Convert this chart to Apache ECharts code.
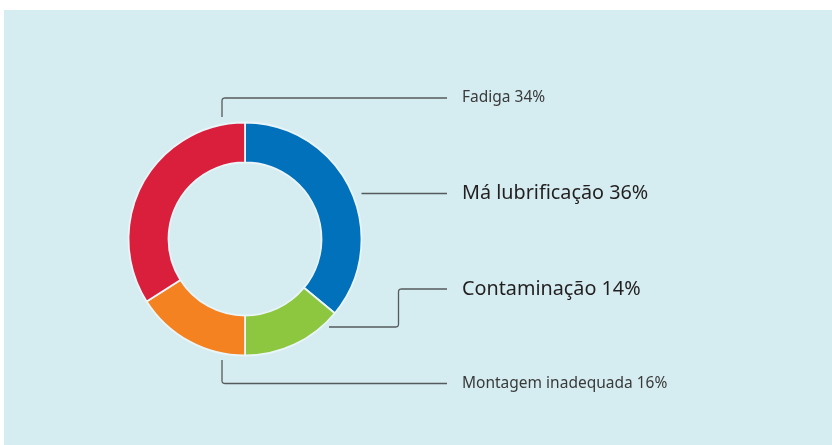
<!DOCTYPE html>
<html>
<head>
<meta charset="utf-8">
<script src="https://cdn.jsdelivr.net/npm/echarts@6/dist/echarts.min.js"></script>
<style>
  html, body { margin: 0; padding: 0; background: #ffffff; }
  #chart { width: 832px; height: 445px; }
</style>
</head>
<body>
<div id="chart"></div>
<script>
// Causes of bearing failure (share of cases, %)
const causes = ['Má lubrificação', 'Contaminação', 'Montagem inadequada', 'Fadiga'];
const shares = [36, 14, 16, 34];

// Presentation per slice (same order as above)
const sliceColors = ['#0071ba', '#8dc63f', '#f48221', '#da1f3d'];
const labelSizes = [19.8, 19.8, 15.5, 15.5];
const labelColors = ['#231f20', '#231f20', '#3a3a3a', '#3a3a3a'];

// Donut geometry
const CX = 245, CY = 239, R_IN = 76.5, R_OUT = 116.5;
const LABEL_X = 462;
const LINE_END_X = 447;

// Leader line routes and label rows, per slice
const labelRows = [193.5, 289, 383.5, 98];
const leaderRoutes = [
  [[CX + R_OUT, 193.5], [LINE_END_X, 193.5]],
  [[329, 327], [398.5, 327], [398.5, 289], [LINE_END_X, 289]],
  [[222, 360], [222, 383.5], [LINE_END_X, 383.5]],
  [[222, 117], [222, 98], [LINE_END_X, 98]]
];

const chart = echarts.init(document.getElementById('chart'), null, { renderer: 'canvas' });

const pieData = causes.map((name, i) => ({
  name: name,
  value: shares[i],
  itemStyle: { color: sliceColors[i] },
  label: { fontSize: labelSizes[i], color: labelColors[i] }
}));

// Polyline with slightly rounded corners (quadratic corner sampled into points)
function roundedPoints(pts, r) {
  const out = [pts[0]];
  for (let i = 1; i < pts.length - 1; i++) {
    const p0 = pts[i - 1], p1 = pts[i], p2 = pts[i + 1];
    const l1 = Math.hypot(p1[0] - p0[0], p1[1] - p0[1]);
    const l2 = Math.hypot(p2[0] - p1[0], p2[1] - p1[1]);
    const a = [p1[0] - (p1[0] - p0[0]) / l1 * r, p1[1] - (p1[1] - p0[1]) / l1 * r];
    const b = [p1[0] + (p2[0] - p1[0]) / l2 * r, p1[1] + (p2[1] - p1[1]) / l2 * r];
    for (let k = 0; k <= 6; k++) {
      const t = k / 6, u = 1 - t;
      out.push([
        u * u * a[0] + 2 * u * t * p1[0] + t * t * b[0],
        u * u * a[1] + 2 * u * t * p1[1] + t * t * b[1]
      ]);
    }
  }
  out.push(pts[pts.length - 1]);
  return out;
}

const leaderGraphics = leaderRoutes.map(pts => ({
  type: 'polyline',
  shape: { points: roundedPoints(pts, 3) },
  style: { fill: null, stroke: '#555a5c', lineWidth: 1.3 },
  z: 10
}));

chart.setOption({
  backgroundColor: '#ffffff',
  animation: false,
  graphic: [
    {
      type: 'rect',
      shape: { x: 4, y: 10, width: 832, height: 440 },
      style: { fill: '#d5edf1' },
      z: -10
    }
  ].concat(leaderGraphics),
  series: [{
    type: 'pie',
    center: [CX, CY],
    radius: [R_IN, R_OUT],
    startAngle: 90,
    clockwise: true,
    silent: true,
    itemStyle: { borderColor: '#e9f5f8', borderWidth: 1.8 },
    label: {
      show: true,
      position: 'outside',
      fontFamily: 'Noto Sans',
      width: 340,
      overflow: 'none',
      formatter: p => p.name + ' ' + p.value + '%'
    },
    labelLine: { show: false },
    labelLayout: params => ({
      x: LABEL_X,
      y: labelRows[params.dataIndex],
      align: 'left',
      verticalAlign: 'middle'
    }),
    data: pieData
  }]
});
</script>
</body>
</html>
